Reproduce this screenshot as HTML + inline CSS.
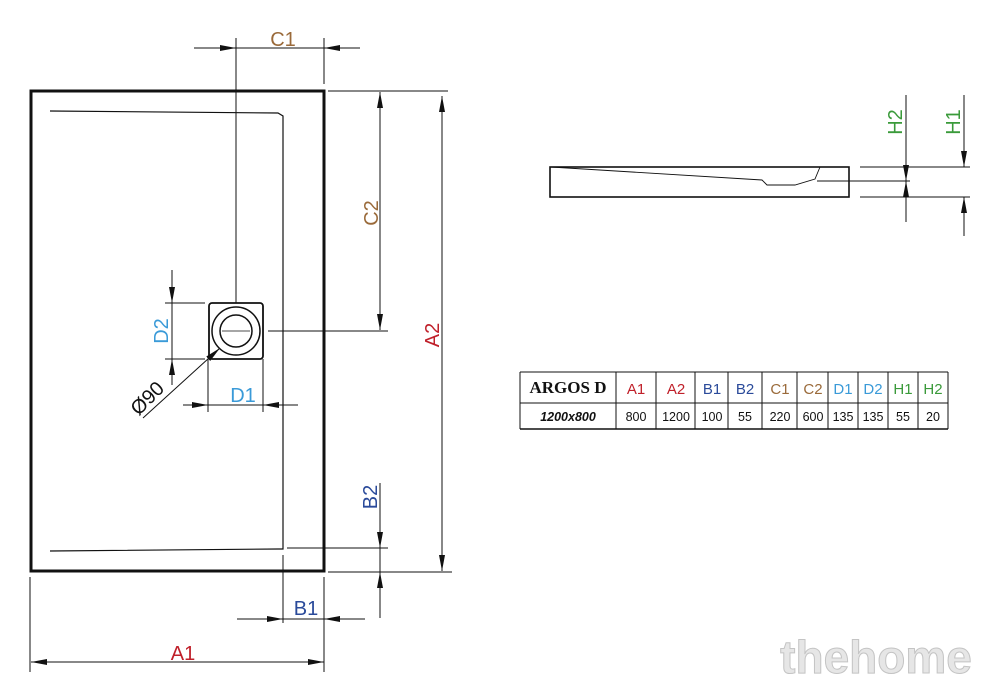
<!DOCTYPE html>
<html><head><meta charset="utf-8"><style>
html,body{margin:0;padding:0;background:#fff;}
svg{display:block;}
</style></head><body>
<svg width="1000" height="700" viewBox="0 0 1000 700" xmlns="http://www.w3.org/2000/svg" font-family="Liberation Sans, Arial, sans-serif">
<defs>
<marker id="a" viewBox="0 0 16 6" refX="16" refY="3" markerWidth="16" markerHeight="6" orient="auto" markerUnits="userSpaceOnUse"><path d="M0,0 L16,3 L0,6 z" fill="#111"/></marker>
</defs>
<g stroke="#111" fill="none">
<rect x="31" y="91" width="293" height="480" stroke-width="3"/>
<polyline points="50,111 278,113 283,116 283,549 278,549 50,551" stroke-width="1.2"/>
<rect x="209" y="303" width="54" height="56" rx="3" stroke-width="1.8"/>
<circle cx="236" cy="331" r="24" stroke-width="1.5"/>
<circle cx="236" cy="331" r="16" stroke-width="1.5"/>
<line x1="222" y1="331" x2="250" y2="331" stroke-width="0.7"/>
<g stroke-width="1">
<line x1="236" y1="38" x2="236" y2="303"/>
<line x1="324" y1="38" x2="324" y2="84"/>
<line x1="194" y1="48" x2="236" y2="48" marker-end="url(#a)"/>
<line x1="360" y1="48" x2="324" y2="48" marker-end="url(#a)"/>
<line x1="236" y1="48" x2="324" y2="48"/>
<line x1="328" y1="91" x2="448" y2="91"/>
<line x1="268" y1="331" x2="388" y2="331"/>
<line x1="380" y1="211" x2="380" y2="92" marker-end="url(#a)"/>
<line x1="380" y1="211" x2="380" y2="330" marker-end="url(#a)"/>
<line x1="442" y1="330" x2="442" y2="96" marker-end="url(#a)"/>
<line x1="442" y1="330" x2="442" y2="571" marker-end="url(#a)"/>
<line x1="328" y1="572" x2="452" y2="572"/>
<line x1="165" y1="303" x2="205" y2="303"/>
<line x1="165" y1="359" x2="205" y2="359"/>
<line x1="172" y1="270" x2="172" y2="303" marker-end="url(#a)"/>
<line x1="172" y1="385" x2="172" y2="359" marker-end="url(#a)"/>
<line x1="172" y1="303" x2="172" y2="359"/>
<line x1="208" y1="359" x2="208" y2="412"/>
<line x1="263" y1="359" x2="263" y2="412"/>
<line x1="183" y1="405" x2="208" y2="405" marker-end="url(#a)"/>
<line x1="298" y1="405" x2="263" y2="405" marker-end="url(#a)"/>
<line x1="208" y1="405" x2="263" y2="405"/>
<line x1="143" y1="418" x2="220" y2="348" marker-end="url(#a)"/>
<line x1="287" y1="548" x2="388" y2="548"/>
<line x1="380" y1="483" x2="380" y2="548" marker-end="url(#a)"/>
<line x1="380" y1="618" x2="380" y2="572" marker-end="url(#a)"/>
<line x1="380" y1="548" x2="380" y2="572"/>
<line x1="283" y1="555" x2="283" y2="623"/>
<line x1="324" y1="577" x2="324" y2="672"/>
<line x1="237" y1="619" x2="283" y2="619" marker-end="url(#a)"/>
<line x1="365" y1="619" x2="324" y2="619" marker-end="url(#a)"/>
<line x1="283" y1="619" x2="324" y2="619"/>
<line x1="30" y1="577" x2="30" y2="672"/>
<line x1="178" y1="662" x2="31" y2="662" marker-end="url(#a)"/>
<line x1="178" y1="662" x2="324" y2="662" marker-end="url(#a)"/>
</g>
<rect x="550" y="167" width="299" height="30" stroke-width="1.6"/>
<polyline points="551,167 762,180 767,185 795,185 815,179 820,167" stroke-width="0.9"/>
<g stroke-width="1">
<line x1="860" y1="167" x2="970" y2="167"/>
<line x1="817" y1="181" x2="910" y2="181"/>
<line x1="860" y1="197" x2="970" y2="197"/>
<line x1="906" y1="95" x2="906" y2="181" marker-end="url(#a)"/>
<line x1="906" y1="222" x2="906" y2="181" marker-end="url(#a)"/>
<line x1="964" y1="95" x2="964" y2="167" marker-end="url(#a)"/>
<line x1="964" y1="236" x2="964" y2="197" marker-end="url(#a)"/>
</g>
<g stroke-width="1">
<line x1="520" y1="372" x2="948" y2="372"/>
<line x1="520" y1="403" x2="948" y2="403"/>
<line x1="520" y1="429" x2="948" y2="429" stroke-width="1.6"/>
<line x1="520" y1="372" x2="520" y2="429"/>
<line x1="616" y1="372" x2="616" y2="429"/>
<line x1="656" y1="372" x2="656" y2="429"/>
<line x1="695" y1="372" x2="695" y2="429"/>
<line x1="728" y1="372" x2="728" y2="429"/>
<line x1="762" y1="372" x2="762" y2="429"/>
<line x1="797" y1="372" x2="797" y2="429"/>
<line x1="828" y1="372" x2="828" y2="429"/>
<line x1="858" y1="372" x2="858" y2="429"/>
<line x1="888" y1="372" x2="888" y2="429"/>
<line x1="918" y1="372" x2="918" y2="429"/>
<line x1="948" y1="372" x2="948" y2="429"/>
</g>
</g>
<g font-size="20">
<text x="283" y="46" fill="#9a6a3a" text-anchor="middle">C1</text>
<text transform="translate(378,213) rotate(-90)" fill="#9a6a3a" text-anchor="middle">C2</text>
<text transform="translate(439,335) rotate(-90)" fill="#c0202a" text-anchor="middle">A2</text>
<text transform="translate(168,331) rotate(-90)" fill="#3a9ad8" text-anchor="middle">D2</text>
<text x="243" y="402" fill="#3a9ad8" text-anchor="middle">D1</text>
<text transform="translate(152,403) rotate(-45)" fill="#111" text-anchor="middle">Ø90</text>
<text transform="translate(377,497) rotate(-90)" fill="#2a4a9a" text-anchor="middle">B2</text>
<text x="306" y="615" fill="#2a4a9a" text-anchor="middle">B1</text>
<text x="183" y="660" fill="#c0202a" text-anchor="middle">A1</text>
<text transform="translate(902,122) rotate(-90)" fill="#3a9a3a" text-anchor="middle">H2</text>
<text transform="translate(960,122) rotate(-90)" fill="#3a9a3a" text-anchor="middle">H1</text>
</g>
<g font-size="15" text-anchor="middle">
<text x="568" y="393" style="font-family:'Liberation Serif',serif;font-weight:bold;font-size:17px" fill="#111">ARGOS D</text>
<text x="636" y="394" fill="#c0202a">A1</text>
<text x="676" y="394" fill="#c0202a">A2</text>
<text x="712" y="394" fill="#2a4a9a">B1</text>
<text x="745" y="394" fill="#2a4a9a">B2</text>
<text x="780" y="394" fill="#9a6a3a">C1</text>
<text x="813" y="394" fill="#9a6a3a">C2</text>
<text x="843" y="394" fill="#3a9ad8">D1</text>
<text x="873" y="394" fill="#3a9ad8">D2</text>
<text x="903" y="394" fill="#3a9a3a">H1</text>
<text x="933" y="394" fill="#3a9a3a">H2</text>
<g font-size="12.5" fill="#111">
<text x="568" y="421" font-weight="bold" font-style="italic">1200x800</text>
<text x="636" y="421">800</text>
<text x="676" y="421">1200</text>
<text x="712" y="421">100</text>
<text x="745" y="421">55</text>
<text x="780" y="421">220</text>
<text x="813" y="421">600</text>
<text x="843" y="421">135</text>
<text x="873" y="421">135</text>
<text x="903" y="421">55</text>
<text x="933" y="421">20</text>
</g>
</g>
<text x="876" y="673" font-size="46" font-weight="bold" fill="#e6e6e6" stroke="#c4c4c4" stroke-width="1" text-anchor="middle">thehome</text>
</svg>
</body></html>
